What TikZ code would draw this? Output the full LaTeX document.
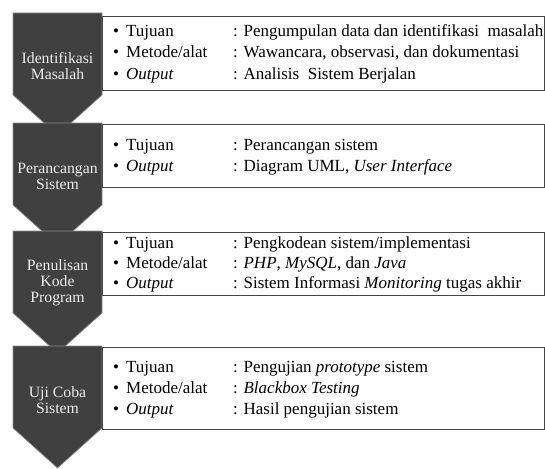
\documentclass[tikz,border=0pt]{standalone}
\usepackage{fontspec}
\setmainfont{Liberation Serif}
\definecolor{chevfill}{HTML}{404040}
\definecolor{chevedge}{HTML}{8C8C8C}
\definecolor{boxedge}{HTML}{454545}
\definecolor{chevtext}{HTML}{EDEDED}
\begin{document}
\begin{tikzpicture}[x=1pt,y=-1pt,
  chevshape/.style={fill=chevfill, draw=chevedge, line width=0.7pt, line join=miter},
  chevronpic/.pic={\path[chevshape] (-44.5,0) -- (44.5,0) -- (44.5,82) -- (0,122) -- (-44.5,82) -- cycle;},
  infobox/.style={draw=boxedge, line width=1.3pt, fill=white, anchor=north west, minimum width=442, inner sep=0},
  ctext/.style={text=chevtext, font=\rmfamily\fontsize{15.75}{16}\selectfont, align=center, inner sep=0},
  bul/.style={anchor=base west, inner sep=0, font=\rmfamily\fontsize{17}{20}\selectfont},
]
\useasboundingbox (0,0) rectangle (545,468);

% chevrons
\pic at (57.5,13) {chevronpic};
\pic at (57.5,123) {chevronpic};
\pic at (57.5,231) {chevronpic};
\pic at (57.5,346) {chevronpic};

\node[ctext] (c1) at (57.5,66) {Identifikasi\\Masalah};
\node[ctext] (c2) at (57.5,176) {Perancangan\\Sistem};
\node[ctext] (c3) at (57.5,283) {Penulisan\\Kode\\Program};
\node[ctext] (c4) at (57.5,400) {Uji Coba\\Sistem};

% boxes
\node[infobox, minimum height=74] (b1) at (102,16) {};
\node[infobox, minimum height=63] (b2) at (102,124) {};
\node[infobox, minimum height=63] (b3) at (102,232) {};
\node[infobox, minimum height=82] (b4) at (102,347) {};

% box 1
\node[bul] (b1d1) at (113,36.5) {•};
\node[bul] (b1l1) at (126,36.5) {Tujuan};
\node[bul] (b1v1) at (233,36.5) {: Pengumpulan data dan identifikasi\ \ masalah};
\node[bul] (b1d2) at (113,58) {•};
\node[bul] (b1l2) at (126,58) {Metode/alat};
\node[bul] (b1v2) at (233,58) {: Wawancara, observasi, dan dokumentasi};
\node[bul] (b1d3) at (113,79.5) {•};
\node[bul] (b1l3) at (126,79.5) {\textit{Output}};
\node[bul] (b1v3) at (233,79.5) {: Analisis\ \ Sistem Berjalan};

% box 2
\node[bul] (b2d1) at (113,150) {•};
\node[bul] (b2l1) at (126,150) {Tujuan};
\node[bul] (b2v1) at (233,150) {: Perancangan sistem};
\node[bul] (b2d2) at (113,171.5) {•};
\node[bul] (b2l2) at (126,171.5) {\textit{Output}};
\node[bul] (b2v2) at (233,171.5) {: Diagram UML, \textit{User Interface}};

% box 3
\node[bul] (b3d1) at (113,248) {•};
\node[bul] (b3l1) at (126,248) {Tujuan};
\node[bul] (b3v1) at (233,248) {: Pengkodean sistem/implementasi};
\node[bul] (b3d2) at (113,268) {•};
\node[bul] (b3l2) at (126,268) {Metode/alat};
\node[bul] (b3v2) at (233,268) {: \textit{PHP}, \textit{MySQL}, dan \textit{Java}};
\node[bul] (b3d3) at (113,288) {•};
\node[bul] (b3l3) at (126,288) {\textit{Output}};
\node[bul] (b3v3) at (233,288) {: Sistem Informasi \textit{Monitoring} tugas akhir};

% box 4
\node[bul] (b4d1) at (113,372) {•};
\node[bul] (b4l1) at (126,372) {Tujuan};
\node[bul] (b4v1) at (233,372) {: Pengujian \textit{prototype} sistem};
\node[bul] (b4d2) at (113,393) {•};
\node[bul] (b4l2) at (126,393) {Metode/alat};
\node[bul] (b4v2) at (233,393) {: \textit{Blackbox Testing}};
\node[bul] (b4d3) at (113,414) {•};
\node[bul] (b4l3) at (126,414) {\textit{Output}};
\node[bul] (b4v3) at (233,414) {: Hasil pengujian sistem};
\end{tikzpicture}
\end{document}
